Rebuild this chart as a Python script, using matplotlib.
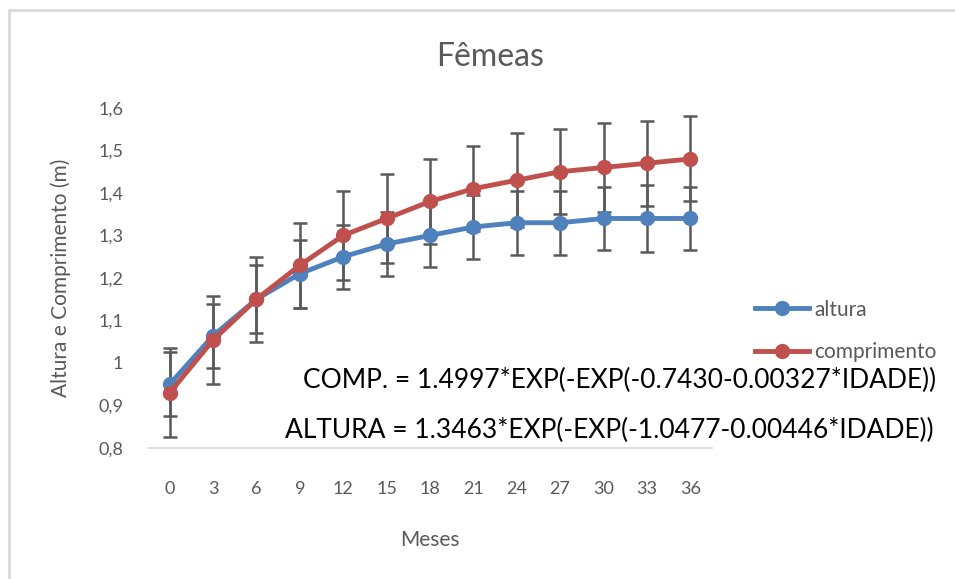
import numpy as np
import matplotlib
matplotlib.use("Agg")
import matplotlib.pyplot as plt
from matplotlib.patches import Rectangle

plt.rcParams['font.family'] = ['Lato', 'DejaVu Sans']

meses = [0, 3, 6, 9, 12, 15, 18, 21, 24, 27, 30, 33, 36]
altura = [0.95, 1.064, 1.15, 1.21, 1.25, 1.28, 1.30, 1.32, 1.33, 1.33, 1.34, 1.34, 1.34]
comprimento = [0.93, 1.054, 1.15, 1.23, 1.30, 1.34, 1.38, 1.41, 1.43, 1.45, 1.46, 1.47, 1.48]
err_altura = [0.075, 0.075, 0.08, 0.08, 0.075, 0.075, 0.075, 0.075, 0.075, 0.075, 0.075, 0.078, 0.073]
err_comprimento = [0.105, 0.103, 0.10, 0.10, 0.105, 0.105, 0.10, 0.10, 0.11, 0.10, 0.105, 0.10, 0.10]
y_ticks = [0.8, 0.9, 1.0, 1.1, 1.2, 1.3, 1.4, 1.5, 1.6]

eq_comp = "COMP. = 1.4997*EXP(-EXP(-0.7430-0.00327*IDADE))"
eq_alt = "ALTURA = 1.3463*EXP(-EXP(-1.0477-0.00446*IDADE))"

gray = "#595959"
blue = "#4F81BD"
red = "#C0504D"

fig = plt.figure(figsize=(9.55, 5.79), dpi=100)
ax = fig.add_axes([0.155, 0.2263, 0.5905, 0.5872])

pos = np.arange(len(meses))
for vals, errs in [(altura, err_altura), (comprimento, err_comprimento)]:
	ax.errorbar(pos, vals, yerr=errs, fmt="none", ecolor=gray, elinewidth=1.8,
		capsize=5, capthick=1.8, zorder=2)
ax.plot(pos, altura, color=blue, lw=3.5, marker="o", ms=10, label="altura", zorder=3)
ax.plot(pos, comprimento, color=red, lw=3.5, marker="o", ms=10, label="comprimento", zorder=4)

ax.set_xlim(-0.5, len(meses) - 0.5)
ax.set_ylim(0.8, 1.6)
ax.set_xticks(pos)
ax.set_xticklabels([str(m) for m in meses])
ax.set_yticks(y_ticks)
ax.set_yticklabels([("%.1f" % t).replace(".", ",").replace(",0", "") for t in y_ticks])
ax.tick_params(length=0, labelsize=13, colors=gray)
ax.tick_params(axis="y", pad=18)
ax.tick_params(axis="x", pad=24)
for s in ["top", "right", "left"]:
	ax.spines[s].set_visible(False)
ax.spines["bottom"].set_color("#D9D9D9")
ax.spines["bottom"].set_linewidth(1.2)

ax.set_xlabel("Meses", fontsize=15, color=gray, va="center")
ax.xaxis.set_label_coords(0.5, -0.27)
ax.set_ylabel("Altura e Comprimento (m)", fontsize=15, color=gray, va="center")
ax.yaxis.set_label_coords(-0.154, 0.5)
fig.text(490/955, 1 - 57/579, "Fêmeas", fontsize=23, color=gray, ha="center", va="center")

fig.text(620/955, 1 - 380/579, eq_comp, fontsize=19, color="black", ha="center", va="center")
fig.text(609/955, 1 - 430/579, eq_alt, fontsize=19, color="black", ha="center", va="center")

fig.legend(loc="center left", bbox_to_anchor=(736/955, 1 - 331/579), frameon=False,
	fontsize=15, labelcolor=gray, handlelength=2.6, labelspacing=1.1, handletextpad=0.25)

fig.patches.append(Rectangle((9/955, -0.1), 1.2, 1.1 - 10/579, transform=fig.transFigure,
	fill=False, edgecolor="#D9D9D9", lw=2))

fig.savefig("out.png", dpi=100)
